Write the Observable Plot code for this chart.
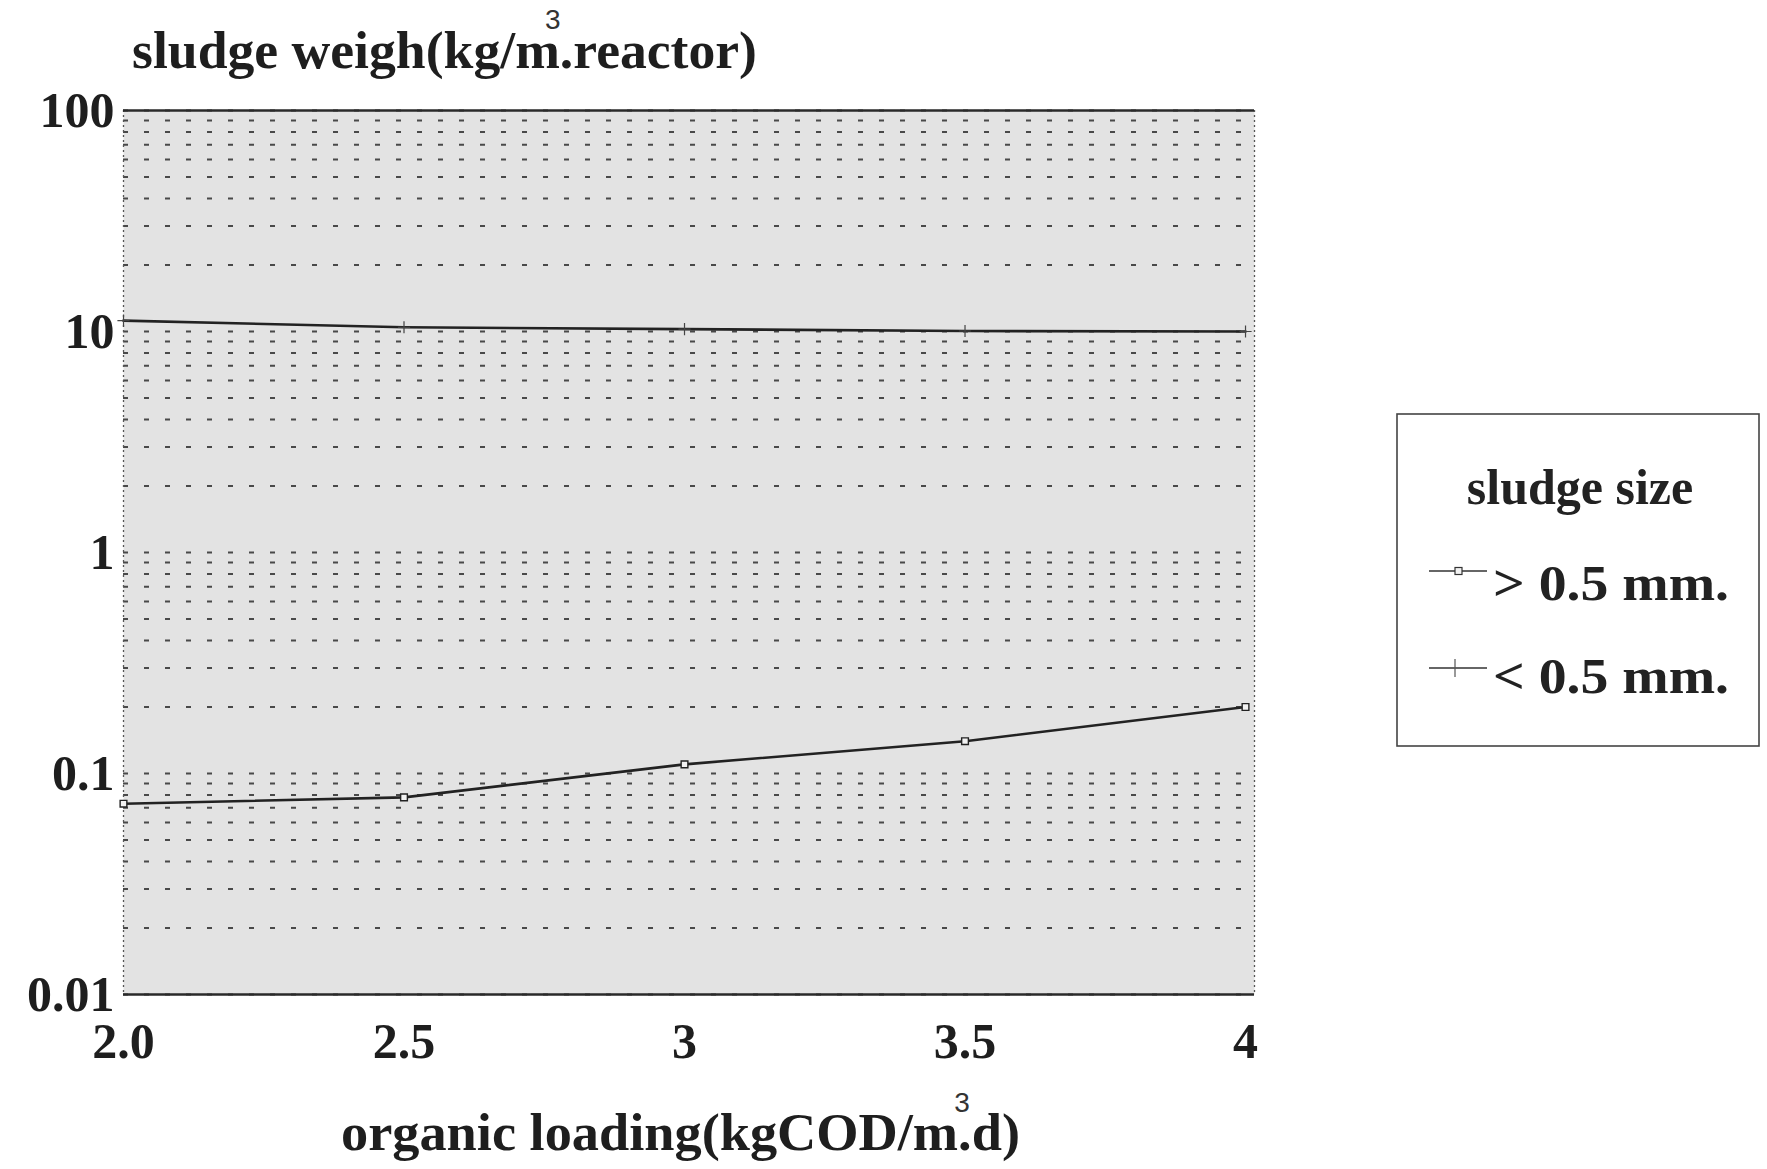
<!DOCTYPE html>
<html><head><meta charset="utf-8">
<script src="https://cdn.jsdelivr.net/npm/d3@7"></script>
<script src="https://cdn.jsdelivr.net/npm/@observablehq/plot@0.6"></script>
<style>
html,body{margin:0;padding:0;background:#fff;}
#wrap{position:relative;width:1767px;height:1169px;overflow:hidden;background:#fff;}
#chart{position:absolute;left:0;top:0;}
#overlay{position:absolute;left:0;top:0;}
</style></head><body>
<div id="wrap"><div id="chart"></div><svg id="overlay" width="1767" height="1169"></svg></div>
<script>
// ---- data ----
const loading = [2.0, 2.5, 3.0, 3.5, 4.0];
const xTickLabels = ["2.0", "2.5", "3", "3.5", "4"];
const sludgeLarge = [0.073, 0.078, 0.11, 0.14, 0.2];   // > 0.5 mm
const sludgeSmall = [11.2, 10.45, 10.25, 10.05, 10.0]; // < 0.5 mm
const yTicks = [0.01, 0.1, 1, 10, 100];
const yTickLabels = ["0.01", "0.1", "1", "10", "100"];
const seriesNames = ["> 0.5 mm.", "< 0.5 mm."];
const titleText = "sludge weigh(kg/m.reactor)";
const xLabelText = "organic loading(kgCOD/m.d)";
const legendTitle = "sludge size";

const rows = loading.flatMap((x, i) => [
  {x, y: sludgeLarge[i], s: seriesNames[0]},
  {x, y: sludgeSmall[i], s: seriesNames[1]}
]);
const gridY = d3.range(-2, 2).flatMap(e => d3.range(1, 10).map(k => +(k * Math.pow(10, e)).toPrecision(3))).concat([100]);
const xDomain = [2, 4.016];
const nearIdx = (arr, d) => d3.minIndex(arr, v => Math.abs(Math.log(v) - Math.log(d)));

const W = 1300, H = 1090;
const serif = "'Liberation Serif', 'Times New Roman', serif";
const chart = Plot.plot({
  width: W, height: H,
  marginTop: 110, marginBottom: H - 994, marginLeft: 123, marginRight: W - 1254,
  style: {fontFamily: serif, fontSize: "50px", fontWeight: "bold", color: "#1e1e1e", background: "transparent", overflow: "visible"},
  x: {domain: xDomain, label: null},
  y: {type: "log", domain: [0.01, 100], label: null},
  marks: [
    Plot.frame({fill: "#e3e3e3", stroke: null}),
    Plot.ruleY(gridY, {stroke: "#2e2e2e", strokeWidth: 2, strokeDasharray: "5,16", strokeOpacity: 0.85}),
    Plot.ruleX(xDomain, {stroke: "#555", strokeWidth: 1.3, strokeDasharray: "2,3"}),
    Plot.ruleY([0.01, 100], {stroke: "#2a2a2a", strokeWidth: 2.4}),
    Plot.axisX(loading, {tickSize: 0, tickPadding: 28, tickFormat: d => xTickLabels[loading.indexOf(d)], label: null, fontSize: 50, fontWeight: "bold"}),
    Plot.axisY(yTicks, {tickSize: 0, tickPadding: 9, tickFormat: d => yTickLabels[nearIdx(yTicks, d)], label: null, fontSize: 50, fontWeight: "bold"}),
    Plot.line(rows, {x: "x", y: "y", z: "s", stroke: "#222", strokeWidth: 2.6}),
    Plot.dot(rows.filter(d => d.s === seriesNames[0]), {x: "x", y: "y", symbol: "square", r: 3.8, fill: "#f2f2f2", stroke: "#222", strokeWidth: 1.4}),
    Plot.dot(rows.filter(d => d.s === seriesNames[1]), {x: "x", y: "y", symbol: "plus", r: 4, stroke: "#444", strokeWidth: 1.2})
  ]
});
document.getElementById("chart").appendChild(chart);

// ---- overlay texts & legend ----
const ov = d3.select("#overlay");
function addLabel(str, x, y, len, supIdx, supBase, supDx) {
  const t = ov.append("text").attr("font-family", serif).attr("fill", "#1e1e1e");
  t.append("tspan").attr("x", x).attr("y", y)
    .attr("font-size", 52).attr("font-weight", "bold")
    .attr("textLength", len).attr("lengthAdjust", "spacingAndGlyphs").text(str);
  const p = t.node().getStartPositionOfChar(supIdx);
  t.append("tspan").attr("x", p.x + supDx).attr("y", supBase)
    .attr("font-family", "'Liberation Sans', Arial, sans-serif").attr("font-size", 28)
    .attr("font-weight", "normal").attr("text-anchor", "middle").attr("fill", "#333").text("3");
}
addLabel(titleText, 132, 68, 625, titleText.indexOf("m.") + 1, 29, -7);
addLabel(xLabelText, 341, 1150, 679, xLabelText.indexOf("m.") + 1, 1112, 4);

// legend
const lg = ov.append("g");
lg.append("rect").attr("x", 1397).attr("y", 414).attr("width", 362).attr("height", 332)
  .attr("fill", "none").attr("stroke", "#444").attr("stroke-width", 1.6);
lg.append("text").attr("x", 1580).attr("y", 504).attr("text-anchor", "middle")
  .attr("font-family", serif).attr("font-size", 50).attr("font-weight", "bold").attr("fill", "#222").text(legendTitle);
const entries = [{name: seriesNames[0], y: 600, sy: 571}, {name: seriesNames[1], y: 693, sy: 668}];
entries.forEach((e, i) => {
  lg.append("line").attr("x1", 1429).attr("x2", 1487).attr("y1", e.sy).attr("y2", e.sy).attr("stroke", "#333").attr("stroke-width", 1.5);
  if (i === 0) {
    lg.append("rect").attr("x", 1455).attr("y", e.sy - 3.5).attr("width", 7).attr("height", 7).attr("fill", "#f2f2f2").attr("stroke", "#333").attr("stroke-width", 1.2);
  } else {
    lg.append("line").attr("x1", 1455).attr("x2", 1455).attr("y1", e.sy - 9).attr("y2", e.sy + 9).attr("stroke", "#555").attr("stroke-width", 1.2);
  }
  lg.append("text").attr("x", 1493).attr("y", e.y)
    .attr("font-family", serif).attr("font-size", 50).attr("font-weight", "bold").attr("fill", "#222")
    .attr("textLength", 236).attr("lengthAdjust", "spacingAndGlyphs").text(e.name);
});
</script>
</body></html>
